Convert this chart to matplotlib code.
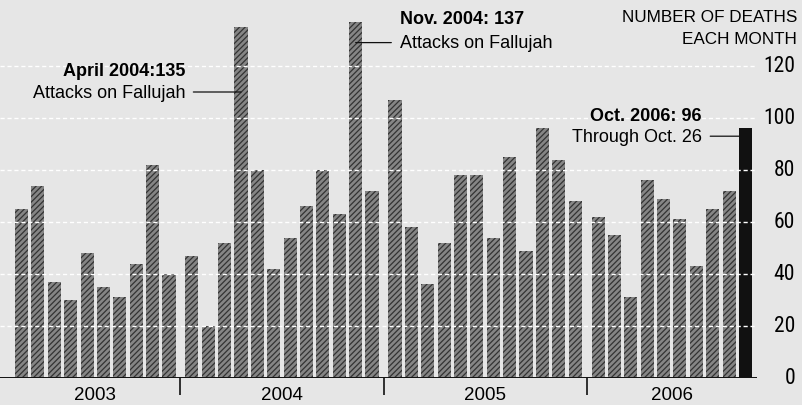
import matplotlib
matplotlib.use('Agg')
import matplotlib.pyplot as plt
import matplotlib.transforms as mtransforms
from matplotlib import font_manager

# Monthly deaths, March 2003 - October 2006 (grouped by year)
years = ['2003', '2004', '2005', '2006']
deaths_2003 = [65, 74, 37, 30, 48, 35, 31, 44, 82, 40]
deaths_2004 = [47, 20, 52, 135, 80, 42, 54, 66, 80, 63, 137, 72]
deaths_2005 = [107, 58, 36, 52, 78, 78, 54, 85, 49, 96, 84, 68]
deaths_2006 = [62, 55, 31, 76, 69, 61, 43, 65, 72, 96]
y_ticks = [0, 20, 40, 60, 80, 100, 120]

plt.rcParams['hatch.linewidth'] = 0.9
BG = '#e6e6e6'
SANS = 'Liberation Sans'


def narrow_font():
    # look for a condensed sans for the axis numbers
    prefs = ['Liberation Sans Narrow', 'Roboto Condensed', 'Open Sans Condensed', 'DejaVu Sans']
    found = []
    for f in font_manager.fontManager.ttflist:
        cond = ('Narrow' in f.name or 'Condensed' in f.name
                or f.stretch in ('condensed', 'semi-condensed', 'extra-condensed', 'ultra-condensed'))
        if cond and f.style == 'normal' and f.weight in (400, 'normal', 'regular', 'book'):
            rank = prefs.index(f.name) if f.name in prefs else len(prefs)
            found.append((rank, f.fname))
    if found:
        found.sort()
        return font_manager.FontProperties(fname=found[0][1], size=15.5)
    return font_manager.FontProperties(family=SANS, size=12)


num_font = narrow_font()

groups = [deaths_2003, deaths_2004, deaths_2005, deaths_2006]
gap = 0.4  # extra space between years

xs, vals, centers, seps = [], [], [], []
idx = 0
for g, series in enumerate(groups):
    start = idx + g * gap
    for v in series:
        xs.append(idx + g * gap)
        vals.append(v)
        idx += 1
    end = xs[-1]
    centers.append((start + end) / 2)
    if g < len(groups) - 1:
        seps.append(end + 0.5 + gap / 2)

W, H = 802, 406
fig = plt.figure(figsize=(W / 100, H / 100), dpi=100, facecolor=BG)
ax = fig.add_axes([0, 27 / H, 757 / W, 377 / H])
ax.set_facecolor(BG)

colors = ['#858585'] * len(vals)
colors[-1] = '#111111'
bars = ax.bar(xs, vals, width=0.8, color=colors, edgecolor='#333333',
              hatch='//////', linewidth=0, zorder=2)
bars[-1].set_hatch('')

# white dashed gridlines through the bars
for t in y_ticks[1:]:
    ax.axhline(t, color='white', lw=1.0, ls=(0, (3, 2)), zorder=3)
ax.axhline(0, color='#111111', lw=1.4, zorder=4)

ax.set_xlim(-1.316, 44.905)
ax.set_ylim(0, 145)
for s in ax.spines.values():
    s.set_visible(False)

# year separators and labels
ax.set_xticks(seps)
ax.set_xticklabels([])
ax.tick_params(axis='x', which='major', length=12, width=1.2, color='#111111', direction='out')
ax.set_xticks(centers, minor=True)
ax.set_xticklabels(years, minor=True, fontfamily=SANS, fontsize=13.5)
ax.tick_params(axis='x', which='minor', length=0, pad=6)
ax.set_yticks([])

# y tick labels on the right
trans = mtransforms.blended_transform_factory(fig.transFigure, ax.transData)
for t in y_ticks:
    ax.text(795 / W, t, str(t), transform=trans, ha='right', va='center',
            fontproperties=num_font, clip_on=False)

fig.text(797 / W, 1 - 18 / H, 'NUMBER OF DEATHS', ha='right', va='center',
         fontfamily=SANS, fontsize=12.3)
fig.text(797 / W, 1 - 40 / H, 'EACH MONTH', ha='right', va='center',
         fontfamily=SANS, fontsize=12.3)

# annotations
line_kw = dict(arrowstyle='-', lw=0.9, color='#111111', shrinkA=4, shrinkB=0)
x_apr = xs[13]
ax.annotate('Attacks on Fallujah', xy=(x_apr, 110), xytext=(-56, 0),
            textcoords='offset pixels', ha='right', va='center',
            fontfamily=SANS, fontsize=13, arrowprops=line_kw, zorder=5)
ax.annotate('April 2004:135', xy=(x_apr, 110), xytext=(-56, 22),
            textcoords='offset pixels', ha='right', va='center',
            fontfamily=SANS, fontsize=13, fontweight='bold')

x_nov = xs[20]
ax.annotate('Attacks on Fallujah', xy=(x_nov, 129), xytext=(44, 0),
            textcoords='offset pixels', ha='left', va='center',
            fontfamily=SANS, fontsize=13, arrowprops=line_kw, zorder=5)
ax.annotate('Nov. 2004: 137', xy=(x_nov, 129), xytext=(44, 24),
            textcoords='offset pixels', ha='left', va='center',
            fontfamily=SANS, fontsize=13, fontweight='bold')

x_oct = xs[-1]
ax.annotate('Through Oct. 26', xy=(x_oct - 0.4, 93), xytext=(-37, 0),
            textcoords='offset pixels', ha='right', va='center',
            fontfamily=SANS, fontsize=13, arrowprops=line_kw, zorder=5)
ax.annotate('Oct. 2006: 96', xy=(x_oct - 0.4, 93), xytext=(-37, 21),
            textcoords='offset pixels', ha='right', va='center',
            fontfamily=SANS, fontsize=13, fontweight='bold')

fig.savefig('out.png', dpi=100, facecolor=BG)
plt.close(fig)
